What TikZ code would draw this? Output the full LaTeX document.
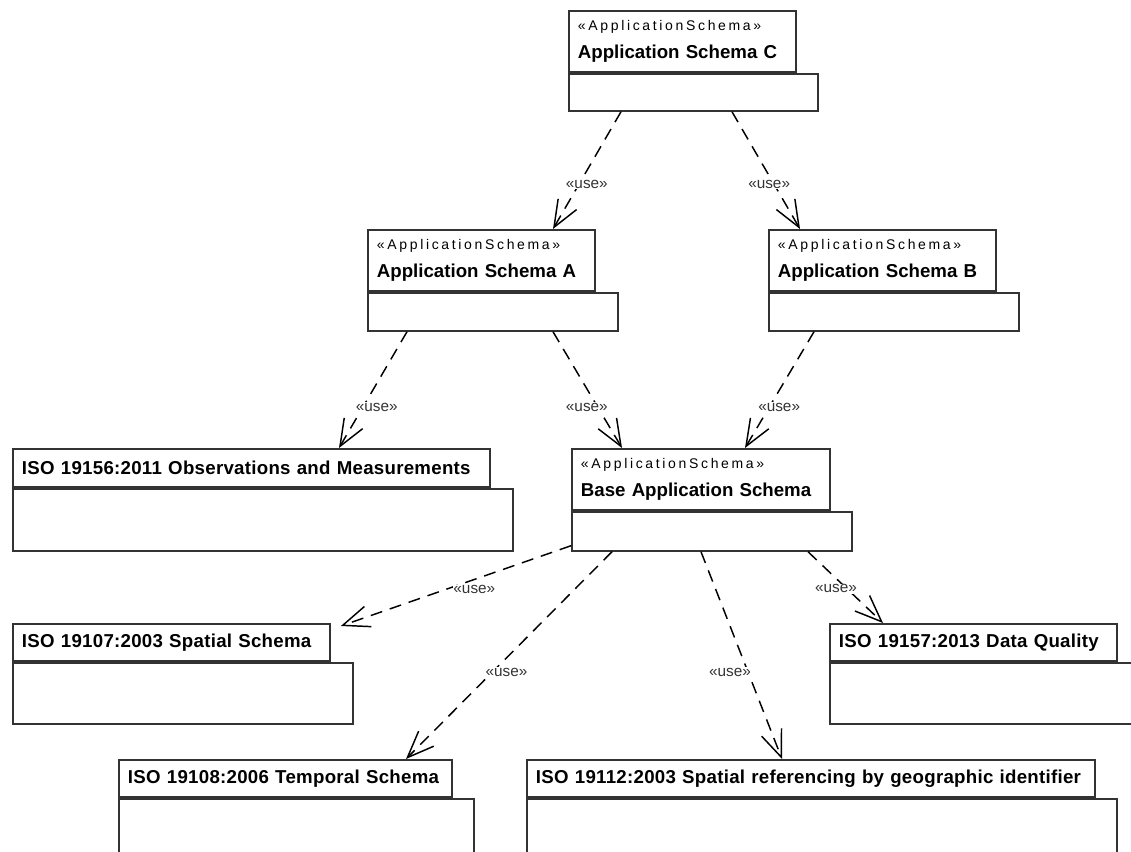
\documentclass[tikz,border=0pt]{standalone}
\usepackage{fontspec}
\setmainfont{Liberation Sans}
\newfontfamily\stereofont[LetterSpace=19]{Liberation Sans}
\newfontfamily\isofont[LetterSpace=1.5]{Liberation Sans}
\usetikzlibrary{positioning,arrows.meta}

\newcommand{\stereo}[1]{{\stereofont\mdseries\fontsize{10.5pt}{12pt}\selectfont«#1»}}
\newcommand{\iso}[1]{\mbox{\isofont\bfseries #1}}

\tikzset{
  pkg/.style={draw=black!80, line width=1.4pt, fill=white},
  pkgtab/.style={pkg, anchor=north west, align=left, inner xsep=6.75pt, inner ysep=0pt,
    font=\fontsize{14pt}{20.5pt}\selectfont\bfseries},
  pkgbody/.style={pkg, anchor=north west, inner sep=0pt},
  dep/.style={draw=black, line width=1.1pt, dash pattern=on 9pt off 6pt,
    -{Straight Barb[length=20pt,width=16pt]}},
  uselbl/.style={font=\fontsize{11.5pt}{12pt}\selectfont, text=black!80, fill=white, inner sep=0.5pt}
}

\begin{document}
\begin{tikzpicture}[x=0.75pt,y=-0.75pt]
  \useasboundingbox (0,0) rectangle (1131,852);
  \clip (0,0) rectangle (1131,852);

  % application schemas
  \node[pkgtab, text width=156.75pt, minimum height=45.75pt] (C-tab) at (568,10)
    {\stereo{ApplicationSchema}\\Application Schema C};
  \node[pkgbody, minimum width=186.75pt, minimum height=27.75pt] (C) at (C-tab.south west) {};

  \node[pkgtab, text width=156.75pt, minimum height=45.75pt] (A-tab) at (367,229)
    {\stereo{ApplicationSchema}\\Application Schema A};
  \node[pkgbody, minimum width=187.5pt, minimum height=28.5pt] (A) at (A-tab.south west) {};

  \node[pkgtab, text width=156.75pt, minimum height=45.75pt] (B-tab) at (768,229)
    {\stereo{ApplicationSchema}\\Application Schema B};
  \node[pkgbody, minimum width=187.5pt, minimum height=28.5pt] (B) at (B-tab.south west) {};

  \node[pkgtab, text width=180pt, minimum height=45.75pt] (Base-tab) at (571,448)
    {\stereo{ApplicationSchema}\\Base Application Schema};
  \node[pkgbody, minimum width=210pt, minimum height=29.25pt] (Base) at (Base-tab.south west) {};

  % ISO standards
  \node[pkgtab, text width=344.25pt, minimum height=28.5pt] (OM-tab) at (12,448)
    {\iso{ISO 19156:2011 Observations and Measurements}};
  \node[pkgbody, minimum width=375pt, minimum height=46.5pt] (OM) at (OM-tab.south west) {};

  \node[pkgtab, text width=224.25pt, minimum height=27.75pt] (SS-tab) at (12,623)
    {\iso{ISO 19107:2003 Spatial Schema}};
  \node[pkgbody, minimum width=255pt, minimum height=45.75pt] (SS) at (SS-tab.south west) {};

  \node[pkgtab, text width=201.75pt, minimum height=27.75pt] (DQ-tab) at (829,623)
    {\iso{ISO 19157:2013 Data Quality}};
  \node[pkgbody, minimum width=231.75pt, minimum height=45.75pt] (DQ) at (DQ-tab.south west) {};

  \node[pkgtab, text width=236.25pt, minimum height=27.75pt] (TS-tab) at (118,759)
    {\iso{ISO 19108:2006 Temporal Schema}};
  \node[pkgbody, minimum width=266.25pt, minimum height=45.75pt] (TS) at (TS-tab.south west) {};

  \node[pkgtab, text width=412.5pt, minimum height=27.75pt] (GI-tab) at (526,759)
    {\iso{ISO 19112:2003 Spatial referencing by geographic identifier}};
  \node[pkgbody, minimum width=442.5pt, minimum height=45.75pt] (GI) at (GI-tab.south west) {};

  % dependencies
  \draw[dep] ([shift={(53,0)}]C.south west) -- node[uselbl, pos=.62, xshift=6pt] (u1) {«use»}
    ([shift={(186,0)}]A-tab.north west);
  \draw[dep] ([shift={(164,0)}]C.south west) -- node[uselbl, pos=.62, xshift=-3.75pt] (u2) {«use»}
    ([shift={(32,0)}]B-tab.north west);
  \draw[dep] ([shift={(40,0)}]A.south west) -- node[uselbl, pos=.65, xshift=10.5pt] (u3) {«use»}
    ([shift={(327,0)}]OM-tab.north west);
  \draw[dep] ([shift={(186,0)}]A.south west) -- node[uselbl, pos=.65, xshift=-8.25pt] (u4) {«use»}
    ([shift={(51,0)}]Base-tab.north west);
  \draw[dep] ([shift={(46,0)}]B.south west) -- node[uselbl, pos=.65, xshift=7.5pt] (u5) {«use»}
    ([shift={(174,0)}]Base-tab.north west);
  \draw[dep] ([shift={(0,-6)}]Base.south west) -- node[uselbl, pos=.42, yshift=-7.5pt] (u6) {«use»}
    ([shift={(10,3)}]SS-tab.north east);
  \draw[dep] ([shift={(41,0)}]Base.south west) -- node[uselbl, pos=.58, xshift=10.5pt] (u7) {«use»}
    ([shift={(288,0)}]TS-tab.north west);
  \draw[dep] ([shift={(130,0)}]Base.south west) -- node[uselbl, pos=.58, xshift=-13.5pt] (u8) {«use»}
    ([shift={(256,0)}]GI-tab.north west);
  \draw[dep] ([shift={(237,0)}]Base.south west) -- node[uselbl, pos=.52, xshift=-8.25pt] (u9) {«use»}
    ([shift={(54,0)}]DQ-tab.north west);
\end{tikzpicture}
\end{document}
